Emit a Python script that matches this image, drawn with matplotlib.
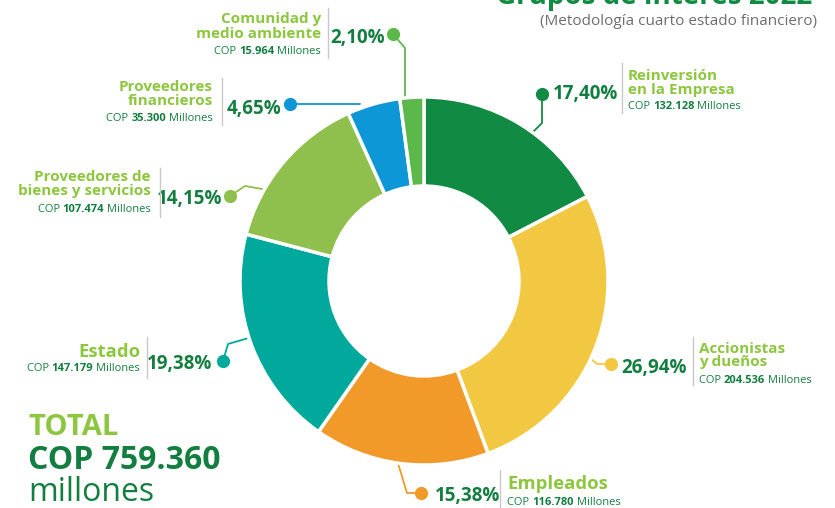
import matplotlib
matplotlib.use("Agg")
import matplotlib.pyplot as plt

# ---------------- data ----------------
groups = ["Reinversión\nen la Empresa", "Accionistas\ny dueños", "Empleados", "Estado",
          "Proveedores de\nbienes y servicios", "Proveedores\nfinancieros", "Comunidad y\nmedio ambiente"]
percent = [17.40, 26.94, 15.38, 19.38, 14.15, 4.65, 2.10]
pct_labels = ["17,40%", "26,94%", "15,38%", "19,38%", "14,15%", "4,65%", "2,10%"]
amounts = ["132.128", "204.536", "116.780", "147.179", "107.474", "35.300", "15.964"]
colors = ["#118a43", "#f2c842", "#f19a29", "#00a99b", "#8fbf4d", "#0d97d7", "#5cb84a"]
total_label = "759.360"
title = "Grupos de interés 2022"
subtitle = "(Metodología cuarto estado financiero)"

W, H = 835, 508
LIGHT = "#8dc63f"
DARK = "#137e3f"
FONT = "Open Sans"

fig = plt.figure(figsize=(W / 100, H / 100), dpi=100)
ax = fig.add_axes([0, 0, 1, 1])

def Y(p):
    return H - p

ax.pie(percent, colors=colors, center=(424, Y(281)), radius=184, startangle=90,
       counterclock=False,
       wedgeprops=dict(width=89, edgecolor="white", linewidth=2.5, zorder=3))
ax.set_xlim(0, W)
ax.set_ylim(0, H)
ax.set_aspect("auto")
ax.axis("off")

renderer = fig.canvas.get_renderer()

def rich(x, y, parts, ha="left", size=8):
    objs = []
    for txt, weight, col in parts:
        t = ax.text(0, Y(y), txt, fontsize=size, fontweight=weight, color=col,
                    family=FONT, ha="left", va="baseline", zorder=5)
        objs.append(t)
    widths = [o.get_window_extent(renderer).width for o in objs]
    total = sum(widths)
    start = x - total if ha == "right" else x
    cur = start
    for o, w in zip(objs, widths):
        o.set_x(cur)
        cur += w

def cop_line(x, y, amount, ha):
    rich(x, y, [("COP ", "normal", DARK), (amount, "bold", DARK), (" Millones", "normal", DARK)], ha=ha)

def name_lines(x, ys, name, ha):
    lines = name.split("\n")
    size = 11 if len(lines) > 1 else 13.3
    for line, yy in zip(lines, ys):
        ax.text(x, Y(yy), line, fontsize=size, fontweight="bold", color=LIGHT, family=FONT,
                ha=ha, va="baseline", zorder=5)

def sep(x, y0, y1):
    ax.plot([x, x], [Y(y0), Y(y1)], color="#c8c8c8", lw=1, zorder=5)

def pct(x, y, s, ha):
    ax.text(x, Y(y), s, fontsize=13.5, fontweight="bold", color=DARK, family=FONT,
            ha=ha, va="baseline", zorder=5)

def leader(pts, col):
    xs = [p[0] for p in pts]
    ys = [Y(p[1]) for p in pts]
    ax.plot(xs, ys, color=col, lw=1.3, zorder=2, solid_capstyle="round")
    ax.plot(xs[0], ys[0], "o", color=col, ms=8.5, zorder=4)

# 0 Reinversión
leader([(542, 94), (542, 123), (522, 143)], colors[0])
pct(553, 99, pct_labels[0], "left")
sep(622, 63, 113)
name_lines(628, [80, 94], groups[0], "left")
cop_line(628, 109, amounts[0], "left")

# 1 Accionistas
leader([(611, 364), (597, 364), (585, 354)], colors[1])
pct(621, 373, pct_labels[1], "left")
sep(693, 337, 385)
name_lines(699, [353, 366], groups[1], "left")
cop_line(699, 383, amounts[1], "left")

# 2 Empleados
leader([(421, 493), (407, 493), (397, 460)], colors[2])
pct(435, 501, pct_labels[2], "left")
sep(500, 470, 508)
name_lines(507, [489], groups[2], "left")
cop_line(507, 505, amounts[2], "left")

# 3 Estado
leader([(223, 361), (228, 344), (252, 337)], colors[3])
pct(212, 369, pct_labels[3], "right")
sep(147, 337, 378)
name_lines(140, [357], groups[3], "right")
cop_line(140, 371, amounts[3], "right")

# 4 Proveedores de bienes
leader([(230, 196), (245, 186), (268, 190)], colors[4])
pct(222, 204, pct_labels[4], "right")
sep(160, 168, 217)
name_lines(151, [181, 195], groups[4], "right")
cop_line(151, 212, amounts[4], "right")

# 5 Proveedores financieros
leader([(290, 104), (360, 104)], colors[5])
pct(281, 114, pct_labels[5], "right")
sep(222, 78, 125)
name_lines(213, [91, 105], groups[5], "right")
cop_line(213, 121, amounts[5], "right")

# 6 Comunidad
leader([(393, 34), (405, 48), (405, 110)], colors[6])
pct(385, 43, pct_labels[6], "right")
sep(328, 8, 58)
name_lines(321, [23, 38], groups[6], "right")
cop_line(321, 54, amounts[6], "right")

# total block
ax.text(28, Y(435), "TOTAL", fontsize=21, fontweight="bold", color=LIGHT, family=FONT, va="baseline")
ax.text(28, Y(469), "COP " + total_label, fontsize=23, fontweight="bold", color=DARK, family=FONT, va="baseline")
ax.text(28, Y(501), "millones", fontsize=23, fontweight="normal", color=DARK, family=FONT, va="baseline")

# title (cut at top, as in the reference)
ax.text(812, Y(4), title, fontsize=20, fontweight="bold", color="#118a43", family=FONT,
        ha="right", va="baseline")
ax.text(817, Y(25), subtitle, fontsize=11, color="#6d6d6d", family=FONT, ha="right", va="baseline")

fig.savefig("out.png", dpi=100)
